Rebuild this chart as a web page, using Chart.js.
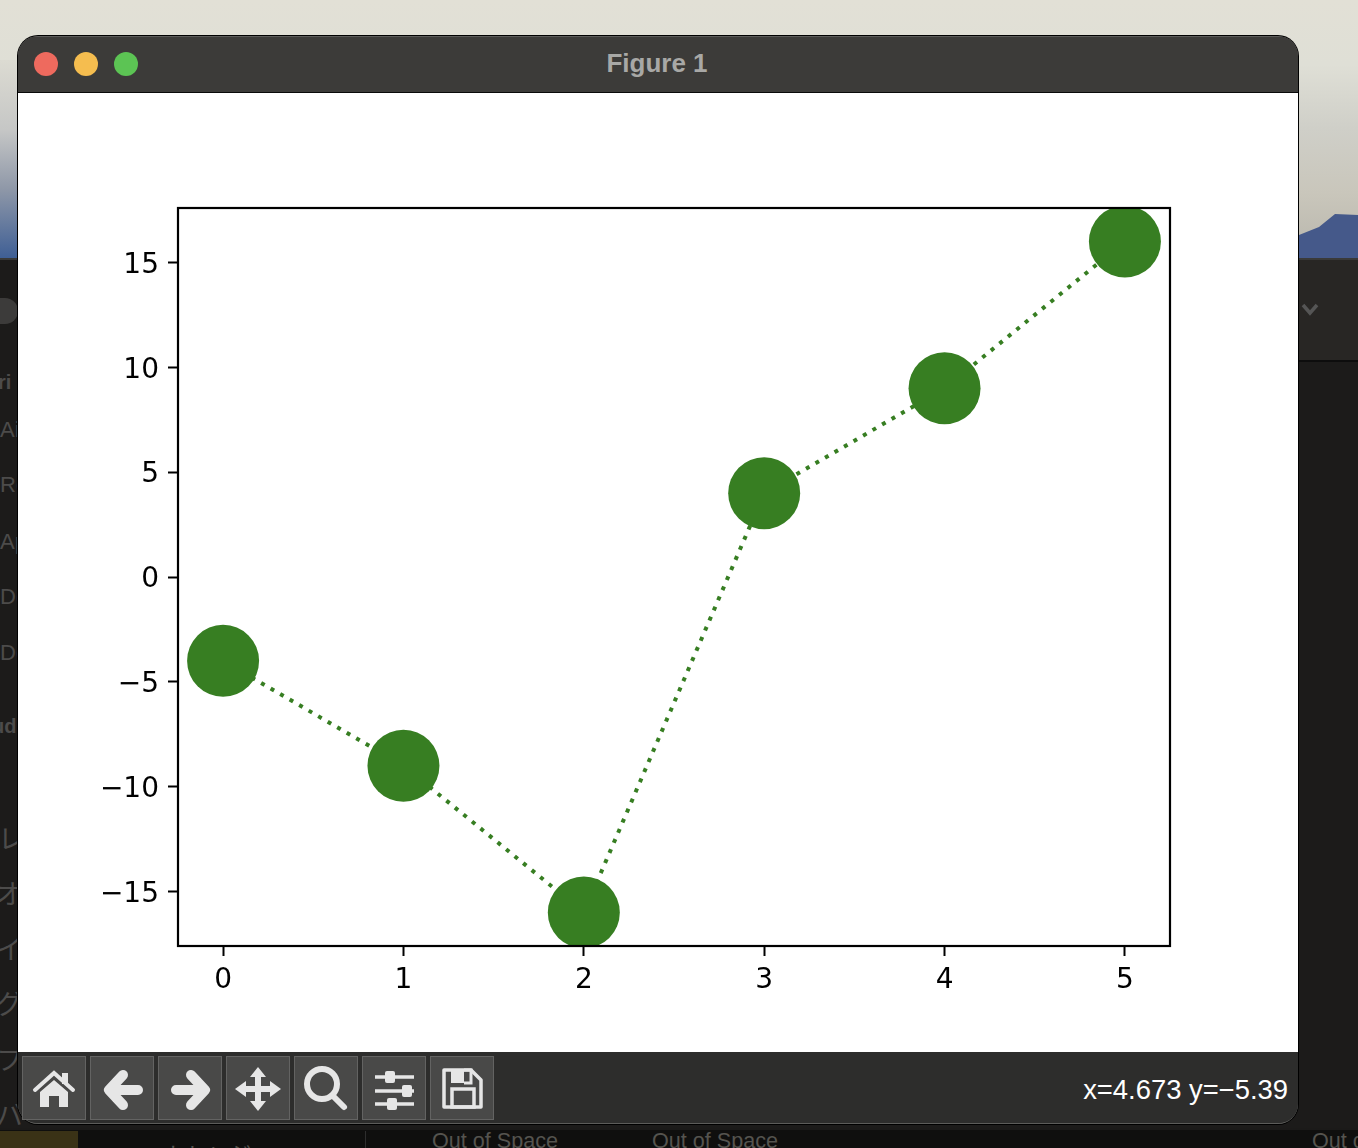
<!DOCTYPE html>
<html lang="en">
<head>
<meta charset="UTF-8">
<title>Figure 1</title>
<script src="https://cdn.jsdelivr.net/npm/chart.js"></script>
<style>
    html, body { margin: 0; padding: 0; width: 1358px; height: 1148px; overflow: hidden; background: #1b1a19; }
    body { position: relative; font-family: "Liberation Sans", sans-serif; }
    .abs { position: absolute; }
    #wallpaper { left: 0; top: 0; width: 1358px; height: 258px;
        background: linear-gradient(180deg, #e2e0d6 0%, #dfdfd6 25%, #cfcfc8 50%, #c9c6bb 75%, #b8b6ac 100%); }
    #wallLeft { left: 0; top: 60px; width: 18px; height: 198px; background: linear-gradient(180deg, #dcdbd2 0%, #c6c7c6 35%, #8f98a8 65%, #3f5f95 100%); }
    #backApp { left: 0; top: 258px; width: 1358px; height: 870px; background: #1c1b1a; border-top: 2px solid #3a3a39; box-sizing: border-box; }
    #backHead { left: 1298px; top: 260px; width: 60px; height: 102px; background: #282624; border-bottom: 2px solid #0d0d0d; box-sizing: border-box; }
    #backBottom { left: 0; top: 1130px; width: 1358px; height: 18px; background: #0f0f0e; }
    .faint { position: absolute; color: #4c4b4a; font-size: 27px; white-space: nowrap; }
    .latin { font-size: 22px; margin-top: 3px; }
    .faintSmall { position: absolute; color: #55544f; font-size: 21.6px; white-space: nowrap; }
    #win { left: 18px; top: 36px; width: 1280px; height: 1088px; border-radius: 20px; background: #2d2d2c;
        box-shadow: 0 0 0 1px #000, inset 0 0 0 1px #5c5c5a; overflow: hidden; }
    #titlebar { left: 0; top: 1px; width: 1280px; height: 55px; background: #3c3b39; border-bottom: 2px solid #0a0a0a; box-sizing: content-box; }
    .light { position: absolute; top: 15px; width: 24px; height: 24px; border-radius: 50%; }
    #title { position: absolute; left: -1px; top: 11px; width: 1280px; text-align: center; color: #a8a8a6; font: bold 26px "Liberation Sans", sans-serif; }
    #figure { position: absolute; left: 18px; top: 93px; width: 1280px; height: 959px; background: #fff; }
    #figure canvas { display: block; }
    #toolbar { left: 18px; top: 1052px; width: 1280px; height: 71px; background: #2d2d2c; border-radius: 0 0 19px 19px; }
    .tool { position: absolute; top: 4px; width: 64px; height: 64px; box-sizing: border-box; background: #494948; border: 1px solid #636362; }
    .tool svg { position: absolute; left: 0; top: 0; width: 62px; height: 62px; }
    #coords { position: absolute; right: 10px; top: 22px; color: #fff; font: 27.4px "Liberation Sans", sans-serif; }
</style>
</head>
<body>
<div id="wallpaper" class="abs"></div>
<div id="wallLeft" class="abs"></div>
<svg class="abs" style="left:1299px;top:205px" width="59" height="54"><path d="M0 30 L20 22 L36 9 L59 10 L59 54 L0 54 Z" fill="#45598a"/></svg>
<div id="backApp" class="abs"></div>
<div id="backHead" class="abs"></div>
<svg class="abs" style="left:1300px;top:302px" width="20" height="16"><path d="M3 3 L10 11 L17 3" stroke="#555" stroke-width="3.5" fill="none"/></svg>
<div class="abs" style="left:0;top:298px;width:18px;height:26px;border-radius:0 13px 13px 0;background:#3c3b3a"></div>
<div class="faint" style="left:-2px;top:371px;font-weight:bold;font-size:20px">ri</div>
<div class="faint latin" style="left:0;top:414px">Ai</div>
<div class="faint latin" style="left:0;top:469px">Re</div>
<div class="faint latin" style="left:0;top:526px">Ap</div>
<div class="faint latin" style="left:0;top:581px">De</div>
<div class="faint latin" style="left:0;top:637px">De</div>
<div class="faint" style="left:-8px;top:715px;font-weight:bold;font-size:20px">ud</div>
<div class="faint" style="left:-2px;top:818px;font-family:'Noto Sans CJK JP'">レ</div>
<div class="faint" style="left:-4px;top:873px;font-family:'Noto Sans CJK JP'">オ</div>
<div class="faint" style="left:-4px;top:928px;font-family:'Noto Sans CJK JP'">イ</div>
<div class="faint" style="left:-4px;top:983px;font-family:'Noto Sans CJK JP'">グ</div>
<div class="faint" style="left:-4px;top:1039px;font-family:'Noto Sans CJK JP'">フ</div>
<div class="faint" style="left:-4px;top:1094px;font-family:'Noto Sans CJK JP'">バ</div>
<div id="backBottom" class="abs"></div>
<div class="abs" style="left:0;top:1131px;width:78px;height:17px;background:#3a3216"></div>
<div class="abs" style="left:365px;top:1131px;width:1px;height:17px;background:#2e2e2e"></div>
<div class="faintSmall" style="left:432px;top:1128px">Out of Space</div>
<div class="faintSmall" style="left:652px;top:1128px">Out of Space</div>
<div class="faintSmall" style="left:1312px;top:1128px">Out of Space</div>
<div class="faintSmall" style="left:165px;top:1137px;font-family:'Noto Sans CJK JP'">トレンジ</div>

<div id="win" class="abs">
    <div id="titlebar" class="abs">
        <div class="light" style="left:16px;background:#ee6a5e"></div>
        <div class="light" style="left:56px;background:#f5bd4f"></div>
        <div class="light" style="left:96px;background:#5cc454"></div>
        <div id="title">Figure 1</div>
    </div>
</div>

<div id="figure"><canvas id="plot" width="1280" height="959"></canvas></div>

<div id="toolbar" class="abs">
    <div class="tool" style="left:4px"><svg viewBox="0 0 62 62"><path d="M12 33 L31 16 L50 33" stroke="#e6e6e6" stroke-width="4" fill="none" stroke-linecap="round"/><path d="M17 35 L31 23 L45 35 L45 50 L36 50 L36 39 L26 39 L26 50 L17 50 Z" fill="#e6e6e6"/><rect x="39" y="16" width="6" height="11" fill="#e6e6e6"/></svg></div>
    <div class="tool" style="left:72px"><svg viewBox="0 0 62 62"><path d="M47 33 L20 33 M32 18 L18 33 L32 48" stroke="#e6e6e6" stroke-width="10" fill="none" stroke-linecap="round" stroke-linejoin="round"/></svg></div>
    <div class="tool" style="left:140px"><svg viewBox="0 0 62 62"><path d="M17 33 L44 33 M32 18 L46 33 L32 48" stroke="#e6e6e6" stroke-width="10" fill="none" stroke-linecap="round" stroke-linejoin="round"/></svg></div>
    <div class="tool" style="left:208px"><svg viewBox="0 0 62 62"><path d="M31 10 L39 20 L34 20 L34 29 L43 29 L43 24 L54 32 L43 40 L43 35 L34 35 L34 44 L39 44 L31 54 L23 44 L28 44 L28 35 L19 35 L19 40 L8 32 L19 24 L19 29 L28 29 L28 20 L23 20 Z" fill="#e6e6e6"/></svg></div>
    <div class="tool" style="left:276px"><svg viewBox="0 0 62 62"><circle cx="27" cy="27" r="15" stroke="#e6e6e6" stroke-width="6" fill="none"/><path d="M38 39 L49 50" stroke="#e6e6e6" stroke-width="6" stroke-linecap="round"/></svg></div>
    <div class="tool" style="left:344px"><svg viewBox="0 0 62 62"><path d="M12 20 L51 20 M12 34 L51 34 M12 47 L51 47" stroke="#e6e6e6" stroke-width="3.5"/><rect x="22" y="14" width="10" height="12" rx="2" fill="#e6e6e6"/><rect x="39" y="28" width="10" height="12" rx="2" fill="#e6e6e6"/><rect x="24" y="41" width="10" height="12" rx="2" fill="#e6e6e6"/></svg></div>
    <div class="tool" style="left:412px"><svg viewBox="0 0 62 62"><path d="M13 13 L40 13 L50 23 L50 50 L13 50 Z" stroke="#e6e6e6" stroke-width="3.5" fill="none" stroke-linejoin="round"/><path d="M21 32 L43 32 L43 50 L21 50 Z" stroke="#e6e6e6" stroke-width="3.5" fill="none"/><rect x="20" y="13" width="13" height="13" fill="#e6e6e6"/><path d="M33 13 L40 13 L40 26 L33 26" stroke="#e6e6e6" stroke-width="3" fill="none"/></svg></div>
    <div id="coords">x=4.673 y=−5.39</div>
</div>

<script>
    const xValues = [0, 1, 2, 3, 4, 5];
    const yValues = [-4, -9, -16, 4, 9, 16];
    const xTicks = [0, 1, 2, 3, 4, 5];
    const yTicks = [-15, -10, -5, 0, 5, 10, 15];
    const xRange = [-0.25, 5.25];
    const yRange = [-17.6, 17.6];

    const lineColor = '#377e22';
    const tickFont = { family: '"DejaVu Sans"', size: 28 };

    // matplotlib draws all four spines, Chart.js only the scale borders
    const spines = {
        id: 'spines',
        afterDatasetsDraw(chart) {
            const { ctx, chartArea: a } = chart;
            ctx.save();
            ctx.strokeStyle = '#000';
            ctx.lineWidth = 2.2;
            ctx.strokeRect(a.left, a.top, a.right - a.left, a.bottom - a.top);
            ctx.restore();
        }
    };

    new Chart(document.getElementById('plot'), {
        type: 'line',
        data: {
            datasets: [{
                data: xValues.map((x, i) => ({ x, y: yValues[i] })),
                borderColor: lineColor,
                borderWidth: 4,
                borderDash: [4, 7],
                backgroundColor: lineColor,
                pointBackgroundColor: lineColor,
                pointBorderColor: lineColor,
                pointBorderWidth: 0,
                pointRadius: 36,
                tension: 0,
                clip: 0
            }]
        },
        plugins: [spines],
        options: {
            responsive: false,
            animation: false,
            events: [],
            layout: { padding: { left: 0, top: 115, right: 128, bottom: 0 } },
            plugins: { legend: { display: false }, tooltip: { enabled: false } },
            scales: {
                x: {
                    type: 'linear',
                    min: xRange[0],
                    max: xRange[1],
                    afterBuildTicks: s => { s.ticks = xTicks.map(value => ({ value })); },
                    afterFit: s => { s.height = 106; },
                    border: { display: false },
                    grid: { drawOnChartArea: false, drawTicks: true, tickLength: 10, tickColor: '#000', tickWidth: 2 },
                    ticks: { color: '#000', font: tickFont, padding: 8, maxRotation: 0, autoSkip: false }
                },
                y: {
                    min: yRange[0],
                    max: yRange[1],
                    afterBuildTicks: s => { s.ticks = yTicks.map(value => ({ value })); },
                    afterFit: s => { s.width = 160; },
                    border: { display: false },
                    grid: { drawOnChartArea: false, drawTicks: true, tickLength: 10, tickColor: '#000', tickWidth: 2 },
                    ticks: {
                        color: '#000', font: tickFont, padding: 9, autoSkip: false, labelOffset: 3,
                        callback: v => String(v).replace('-', '\u2212')
                    }
                }
            }
        }
    });
</script>
</body>
</html>
